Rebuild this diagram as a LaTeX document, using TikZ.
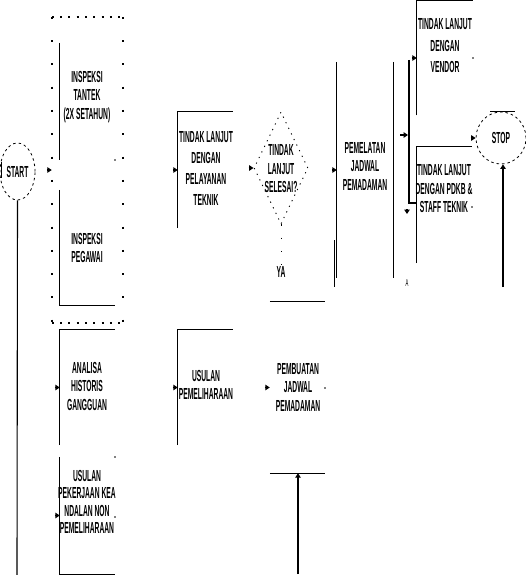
\documentclass[tikz,border=0pt]{standalone}
\usepackage{fontspec}
\setmainfont{Liberation Sans}[FakeStretch=0.42]
\usetikzlibrary{arrows.meta,calc,shapes.geometric}
\definecolor{flowInk}{HTML}{000000}
\tikzset{
  fcframe/.style={rectangle, draw=none, inner sep=0pt, minimum width=55pt},
  fctext/.style={font=\bfseries\fontsize{16}{18.5}\selectfont, text=flowInk,
    align=center, inner sep=0pt},
  fcsmall/.style={font=\fontsize{10}{12}\selectfont, text=flowInk,
    inner sep=0pt},
  fcedge/.style={draw=flowInk, line width=1.1pt},
  fcarrow/.style={-{Triangle[length=4.5pt,width=5.5pt]}, draw=flowInk,
    line width=1.1pt},
  fcdotH/.style={draw=flowInk, line width=2pt, dash pattern=on 2pt off 6.3pt},
  fcdotV/.style={draw=flowInk, line width=2pt, dash pattern=on 2pt off 21.3pt},
  fcdotline/.style={draw=flowInk, line width=1pt, dash pattern=on 1.2pt off 12pt},
  fcterm/.style={ellipse, draw=flowInk, line width=0.8pt,
    dash pattern=on 2.5pt off 3pt, inner sep=0pt},
  fcdecide/.style={diamond, aspect=0.5, draw=flowInk, line width=0.9pt,
    dash pattern=on 1.2pt off 5pt, inner sep=0pt},
}

\begin{document}
\begin{tikzpicture}[x=1pt,y=1pt]
  \path[use as bounding box] (0,-575) rectangle (525,0);

  % frames, only some of their sides show
  \node[fcframe,minimum width=71pt,minimum height=306pt] (grp) at (87.5,-170) {};
  \node[fcframe,minimum height=117pt] (fInspA) at (87.5,-101.5) {};
  \node[fcframe,minimum height=115pt] (fInspB) at (87.5,-247.5) {};
  \node[fcframe,minimum height=115pt] (fAnal) at (87.5,-387.5) {};
  \node[fcframe,minimum height=117pt] (fUsulA) at (87.5,-515.5) {};
  \node[fcframe,minimum height=116pt] (fTindak) at (205.5,-170) {};
  \node[fcframe,minimum height=115pt] (fUsulB) at (205.5,-387.5) {};
  \node[fcframe,minimum height=171pt] (fBuat) at (297.5,-387.5) {};
  \node[fcframe,minimum width=56pt,minimum height=216pt] (fJadwal) at (365,-170) {};
  \node[fcframe,minimum width=56pt,minimum height=114.4pt] (fVendor) at (445,-58) {};
  \node[fcframe,minimum height=116pt] (fPdkb) at (444.5,-205) {};
  \node[fcdecide,minimum width=54pt,minimum height=112pt] (dia) at (281,-168) {};
  \node[fcterm,fctext,minimum width=35pt,minimum height=57pt]
    (start) at (17.5,-171.5) {START};
  \node[fcterm,fctext,minimum width=50pt,minimum height=52pt]
    (stop) at (501,-138) {STOP};

  % texts
  \node[fctext] (tInspA) at (87,-97) {INSPEKSI\\TANTEK\\(2X SETAHUN)};
  \node[fctext] (tInspB) at (87,-248) {INSPEKSI\\PEGAWAI};
  \node[fctext] (tAnal) at (87,-386) {ANALISA\\HISTORIS\\GANGGUAN};
  \node[fctext] (tUsulA) at (87,-502)
    {USULAN\\[-1pt]PEKERJAAN KEA\\[-1pt]NDALAN NON\\[-1pt]PEMELIHARAAN};
  \node[fctext] (tTindak) at (206,-168)
    {TINDAK LANJUT\\[2.5pt]DENGAN\\[2.5pt]PELAYANAN\\[2.5pt]TEKNIK};
  \node[fctext] (tUsulB) at (206,-385) {USULAN\\PEMELIHARAAN};
  \node[fctext] (tDia) at (281,-169) {TINDAK\\LANJUT\\SELESAI?};
  \node[fctext] (tYa) at (281,-272) {YA};
  \node[fctext] (tBuat) at (298,-387) {PEMBUATAN\\JADWAL\\PEMADAMAN};
  \node[fctext] (tJadwal) at (365,-166) {PEMELATAN\\JADWAL\\PEMADAMAN};
  \node[fctext] (tVendor) at (445,-46)
    {TINDAK LANJUT\\[3pt]DENGAN\\[3pt]VENDOR};
  \node[fctext] (tPdkb) at (444,-189)
    {TINDAK LANJUT\\DENGAN PDKB \&\\STAFF TEKNIK};
  \node[fcsmall] (tA) at (407,-283) {A};

  % visible sides
  \draw[fcdotH] (grp.north west) -- (grp.north east)
    (grp.south west) -- (grp.south east);
  \draw[fcdotV] (grp.north west) -- (grp.south west)
    (grp.north east) -- (grp.south east);
  \draw[fcedge] (fInspA.north west) -- (fInspA.south west);
  \draw[fcedge] (fInspB.north west) -- (fInspB.south west) -- (fInspB.south east);
  \draw[fcedge] (fAnal.south west) -- (fAnal.north west) -- (fAnal.north east);
  \draw[fcedge] (fUsulA.north west) -- (fUsulA.south west) -- (fUsulA.south east);
  \draw[fcedge] (fTindak.south west) -- (fTindak.north west) -- (fTindak.north east);
  \draw[fcedge] (fUsulB.south west) -- (fUsulB.north west) -- (fUsulB.north east);
  \draw[fcedge] (fBuat.north west) -- (fBuat.north east)
    (fBuat.south west) -- (fBuat.south east);
  \draw[fcedge] (fJadwal.north west) -- (fJadwal.south west)
    (fJadwal.north east) -- (fJadwal.south east);
  \draw[fcedge] ($(fJadwal.south west)+(-2.5,38)$) -- ++(0,-47);
  \draw[fcedge] (fVendor.south west) -- (fVendor.north west) -- (fVendor.north east);
  \draw[fcedge] (fPdkb.south west) -- (fPdkb.north west) -- (fPdkb.north east);
  \draw[fcedge] ([xshift=-11pt]stop.north) -- ([xshift=14pt]stop.north);
  \draw[fcedge] ([xshift=1.5pt,yshift=10pt]start.west)
    -- ([xshift=1.5pt,yshift=-6pt]start.west);
  \foreach \p in {(115,-160),(115,-457),(115,-517),(325,-388),
    (473,-58),(472,-207)}
    \fill[flowInk] \p circle (0.9);

  % connectors
  \coordinate (startFeed) at (17,-575);
  \draw[fcedge] (start.south) -- (startFeed);
  \draw[fcarrow] ([xshift=-5pt]grp.west) -- (grp.west);
  \draw[fcarrow] ([xshift=-5pt]fAnal.west) -- (fAnal.west);
  \draw[fcarrow] ([xshift=-5pt]fUsulA.west) -- (fUsulA.west);
  \draw[fcarrow] ([xshift=-5pt]fTindak.west) -- (fTindak.west);
  \draw[fcarrow] ([xshift=-5pt]fUsulB.west) -- (fUsulB.west);
  \draw[fcarrow] ([xshift=-5pt]dia.west) -- (dia.west);
  \draw[fcarrow] ([xshift=-5pt]fBuat.west) -- (fBuat.west);
  \draw[fcarrow] ([xshift=-5pt]fJadwal.west) -- (fJadwal.west);
  \draw[fcdotline] (dia.south) -- (tYa.north);

  \coordinate (splitTop) at (409,-60);
  \coordinate (splitBot) at (409,-203);
  \draw[fcedge] (splitTop) -- (splitBot) -- (splitBot-|fPdkb.west);
  \coordinate (splitIn) at (408,-135);
  \draw[fcarrow] ([xshift=-8pt]splitIn) -- (splitIn);
  \coordinate (splitOut) at (407,-214);
  \draw[fcarrow] ([yshift=5pt]splitOut) -- (splitOut);
  \draw[fcarrow] ([xshift=-5pt]fVendor.west) -- (fVendor.west);
  \draw[fcarrow] ([xshift=-5pt]stop.west) -- (stop.west);

  \coordinate (stopFeed) at (503,-287);
  \draw[fcarrow] (stopFeed) -- (stopFeed|-stop.south);
  \coordinate (buatFeed) at (298,-574);
  \draw[fcarrow] (buatFeed) -- (buatFeed|-fBuat.south);
\end{tikzpicture}
\end{document}
